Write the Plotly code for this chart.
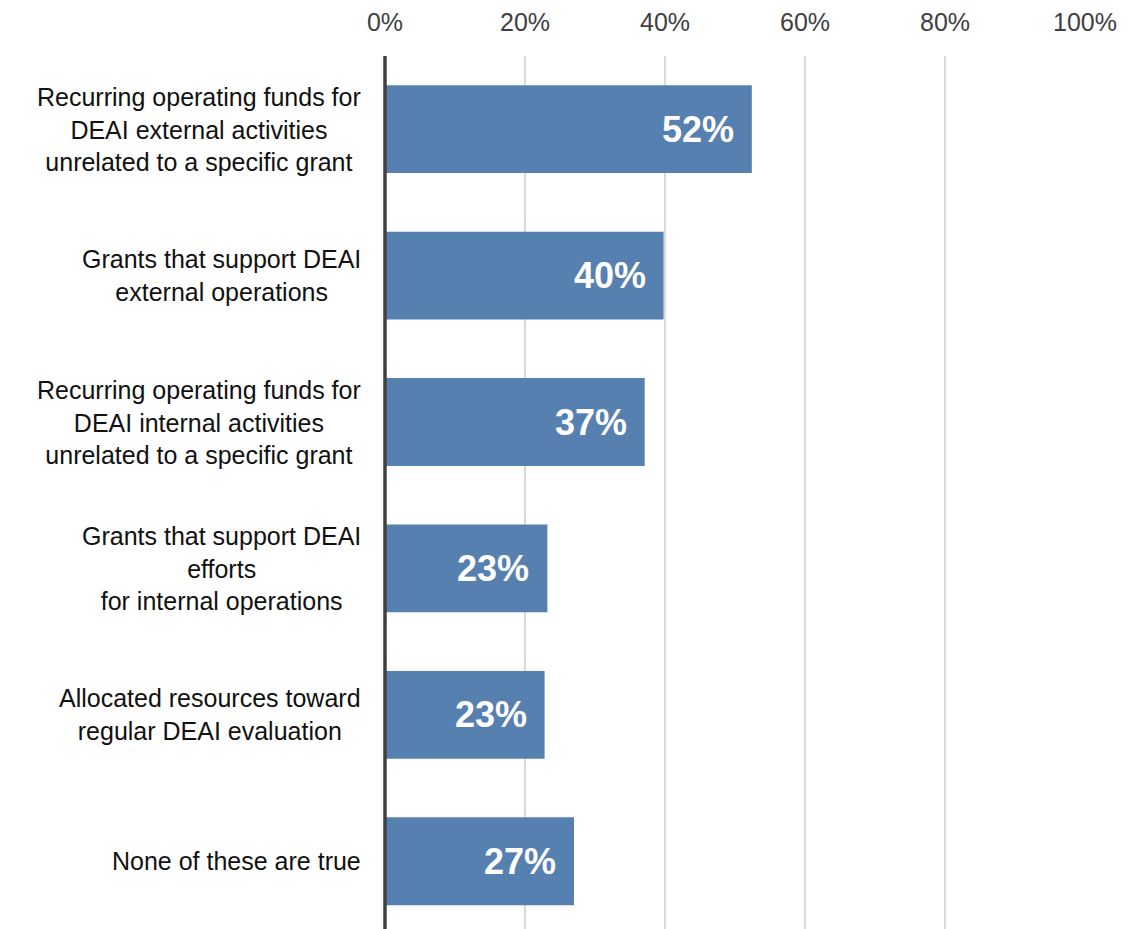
import plotly.graph_objects as go

# Survey results: share of organisations reporting each type of DEAI resourcing
categories = [
    "Recurring operating funds for<br>DEAI external activities<br>unrelated to a specific grant",
    "Grants that support DEAI<br>external operations",
    "Recurring operating funds for<br>DEAI internal activities<br>unrelated to a specific grant",
    "Grants that support DEAI<br>efforts<br>for internal operations",
    "Allocated resources toward<br>regular DEAI evaluation",
    "None of these are true",
]
shares = [52.4, 39.8, 37.1, 23.2, 22.8, 27.0]
x_ticks = [0, 20, 40, 60, 80, 100]
x_tick_labels = ["0%", "20%", "40%", "60%", "80%", "100%"]

BAR_COLOR = "#5580b0"
FONT = "Liberation Sans, Arial, sans-serif"

positions = list(range(len(categories)))

fig = go.Figure(
    go.Bar(
        x=shares,
        y=positions,
        orientation="h",
        width=0.6,
        marker=dict(color=BAR_COLOR, line=dict(width=0)),
        hoverinfo="skip",
    )
)

# category labels, centred line by line, to the left of the axis
for pos, label in zip(positions, categories):
    fig.add_annotation(
        x=0, xref="paper", y=pos, yref="y",
        text=label, showarrow=False,
        xanchor="right", yanchor="middle", align="center",
        xshift=-22,
        font=dict(family=FONT, size=25, color="#111111"),
    )

# value labels inside the bar ends
for pos, val in zip(positions, shares):
    fig.add_annotation(
        x=val, xref="x", y=pos, yref="y",
        text=f"<b>{val:.0f}%</b>", showarrow=False,
        xanchor="right", yanchor="middle",
        xshift=-16,
        font=dict(family=FONT, size=36, color="white"),
    )

fig.update_layout(
    width=1135,
    height=929,
    margin=dict(l=385, r=50, t=56, b=0),
    paper_bgcolor="white",
    plot_bgcolor="white",
    showlegend=False,
    xaxis=dict(
        side="top",
        range=[0, 100],
        tickvals=x_ticks,
        ticktext=x_tick_labels,
        tickfont=dict(family=FONT, size=25, color="#404040"),
        showgrid=True,
        gridcolor="#d9d9d9",
        gridwidth=2,
        zeroline=False,
        showline=False,
        ticks="",
        ticklabelstandoff=19,
    ),
    yaxis=dict(
        range=[5.463, -0.5],
        showticklabels=False,
        showgrid=False,
        zeroline=False,
        showline=False,
        ticks="",
    ),
)

# dark baseline at 0% (left edge of the plot area)
fig.add_shape(
    type="line", xref="paper", yref="paper",
    x0=0, x1=0, y0=0, y1=1,
    line=dict(color="#404040", width=3.5),
    layer="above",
)

fig.write_html("out.html")
